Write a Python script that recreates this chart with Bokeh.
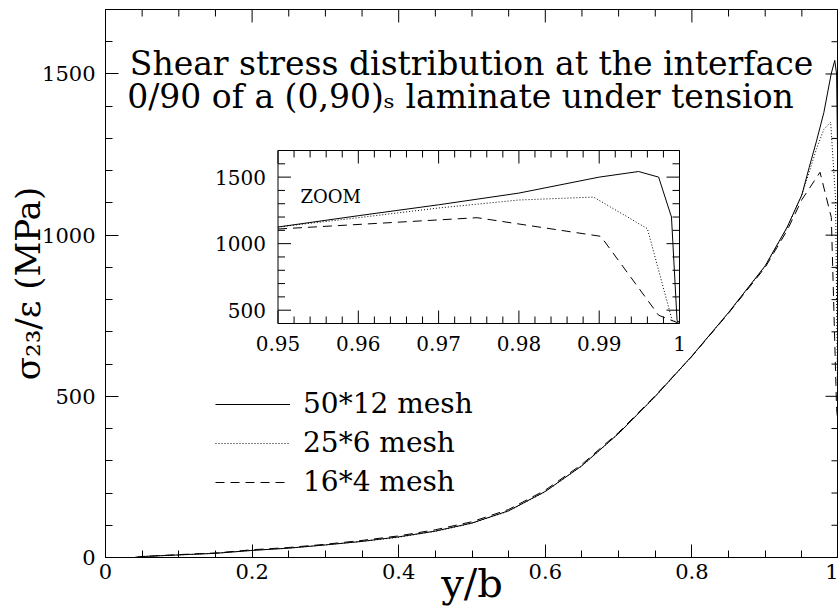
import numpy as np
from bokeh.plotting import figure
from bokeh.models import Range1d, FixedTicker, Label, Legend, LegendItem
from bokeh.embed import file_html
from bokeh.resources import INLINE
from bokeh.core.properties import value

# ---------------- data ----------------
x_50x12 = [0.04, 0.05, 0.10, 0.15, 0.20, 0.25, 0.30, 0.35, 0.40, 0.45, 0.50, 0.55, 0.60, 0.65,
           0.70, 0.75, 0.80, 0.85, 0.90, 0.93, 0.95, 0.96, 0.97, 0.98, 0.99, 0.9949, 0.9974,
           0.9990, 0.9997, 1.0]
y_50x12 = [0, 3, 8, 13, 22, 29, 39, 50, 64, 82, 107, 145, 205, 285,
           385, 500, 625, 760, 905, 1025, 1125, 1210, 1292, 1380, 1500, 1542, 1500,
           1200, 420, 410]

x_25x6 = [0.04, 0.05, 0.10, 0.15, 0.20, 0.25, 0.30, 0.35, 0.40, 0.45, 0.50, 0.55, 0.60, 0.65,
          0.70, 0.75, 0.80, 0.85, 0.90, 0.93, 0.95, 0.96, 0.97, 0.98, 0.9893, 0.996, 0.9991, 1.0]
y_25x6 = [0, 3, 8, 13, 22, 29, 39, 50, 63, 81, 106, 144, 204, 284,
          384, 499, 624, 759, 903, 1023, 1125, 1195, 1268, 1328, 1350, 1113, 420, 410]

x_16x4 = [0.04, 0.05, 0.10, 0.15, 0.20, 0.25, 0.30, 0.35, 0.40, 0.45, 0.50, 0.55, 0.60, 0.65,
          0.70, 0.75, 0.80, 0.85, 0.90, 0.93, 0.95, 0.9748, 0.9902, 0.9974, 1.0]
y_16x4 = [0, 3, 9, 14, 24, 31, 41, 53, 67, 86, 111, 149, 209, 289,
          388, 502, 624, 758, 900, 1015, 1110, 1195, 1055, 462, 400]

series_labels = ["50*12 mesh", "25*6 mesh", "16*4 mesh"]

x_ticks = [0, 0.2, 0.4, 0.6, 0.8, 1.0]
x_tick_labels = ["0", "0.2", "0.4", "0.6", "0.8", "1"]
y_ticks = [0, 500, 1000, 1500]
y_tick_labels = ["0", "500", "1000", "1500"]

inset_x_ticks = [0.95, 0.96, 0.97, 0.98, 0.99, 1.0]
inset_x_tick_labels = ["0.95", "0.96", "0.97", "0.98", "0.99", "1"]
inset_y_ticks = [500, 1000, 1500]
inset_y_tick_labels = ["500", "1000", "1500"]

title_line1 = "Shear stress distribution at the interface"
title_line2 = "0/90 of a (0,90)\u209b laminate under tension"
x_title = "y/b"
y_title = "\u03c3\u2082\u2083/\u03b5 (MPa)"
zoom_text = "ZOOM"

# ---------------- layout constants ----------------
FONT = "DejaVu Serif"
W, H = 838, 614
FL, FR, FT, FB = 105, 838, 9, 557          # main frame, page pixels
IL, IR, IT, IB = 277.5, 679, 150, 323      # inset frame, page pixels
X_MAIN = (0.0, 1.0)
Y_MAIN = (0.0, 1700.0)
X_INSET = (0.95, 1.0)
Y_INSET = (400.0, 1700.0)

def fx(px):   # page x -> frame-relative screen x
    return px - FL

def fy(py):   # page y -> frame-relative screen y (from bottom)
    return FB - py

def extra_range(lo, hi, p_lo, p_hi, f_lo, f_hi):
    a = (p_lo - f_lo) / (f_hi - f_lo)
    b = (p_hi - f_lo) / (f_hi - f_lo)
    span = (hi - lo) / (b - a)
    start = lo - a * span
    return Range1d(start, start + span)

p = figure(width=W, height=H, x_range=Range1d(*X_MAIN), y_range=Range1d(*Y_MAIN),
           output_backend="svg", toolbar_location=None,
           min_border_left=FL, min_border_right=W - FR, min_border_top=FT,
           min_border_bottom=H - FB,
           background_fill_color="white", border_fill_color="white",
           outline_line_color="black", outline_line_width=1)
p.grid.visible = False

p.extra_x_ranges = {"ix": extra_range(X_INSET[0], X_INSET[1], IL, IR, FL, FR)}
p.extra_y_ranges = {"iy": extra_range(Y_INSET[0], Y_INSET[1], FB - IB, FB - IT, 0, FB - FT)}

x_minor = [v for v in np.round(np.arange(0, 1.0001, 0.05), 3) if v not in x_ticks]
y_minor = [v for v in np.arange(0, 1701, 100) if v not in y_ticks]

for ax in (p.xaxis[0], p.yaxis[0]):
    ax.major_tick_in = 13
    ax.major_tick_out = 0
    ax.minor_tick_in = 7
    ax.minor_tick_out = 0
    ax.axis_line_color = "black"
    ax.major_tick_line_color = "black"
    ax.minor_tick_line_color = "black"
    ax.major_label_text_font = FONT
    ax.major_label_text_font_size = "21px"
    ax.major_label_text_color = "black"
    ax.axis_label_text_font = FONT
    ax.axis_label_text_font_style = "normal"
    ax.axis_label_text_color = "black"

p.xaxis.ticker = FixedTicker(ticks=x_ticks, minor_ticks=x_minor)
p.yaxis.ticker = FixedTicker(ticks=y_ticks, minor_ticks=y_minor)
p.xaxis.major_label_overrides = {t: l for t, l in zip(x_ticks, x_tick_labels)}
p.yaxis.major_label_overrides = {t: l for t, l in zip(y_ticks, y_tick_labels)}
p.xaxis.major_label_standoff = 6
p.yaxis.major_label_standoff = 10

p.xaxis.axis_label = x_title
p.xaxis.axis_label_text_font_size = "40px"
p.xaxis.axis_label_standoff = -22
p.yaxis.axis_label = y_title
p.yaxis.axis_label_text_font_size = "34px"
p.yaxis.axis_label_standoff = -9

# mirrored ticks on top and right edges of the main frame
def rays(xs, ys, angle, length, **kw):
    p.ray(x=xs, y=ys, length=length, length_units="screen", angle=angle,
          line_color="black", line_width=1, **kw)

rays(x_ticks, [Y_MAIN[1]] * len(x_ticks), -np.pi / 2, 13)
rays(x_minor, [Y_MAIN[1]] * len(x_minor), -np.pi / 2, 7)
rays([X_MAIN[1]] * len(y_ticks), y_ticks, np.pi, 13)
rays([X_MAIN[1]] * len(y_minor), y_minor, np.pi, 7)

# ---------------- main curves ----------------
styles = [dict(line_dash="solid"), dict(line_dash="1 2"), dict(line_dash="9 6")]
series = [(x_50x12, y_50x12), (x_25x6, y_25x6), (x_16x4, y_16x4)]
main_renderers = []
for (xs, ys), st in zip(series, styles):
    r = p.line(xs, ys, line_color="black", line_width=1, **st)
    main_renderers.append(r)

# ---------------- inset ----------------
IR_KW = dict(x_range_name="ix", y_range_name="iy")
p.quad(left=[X_INSET[0]], right=[X_INSET[1]], bottom=[Y_INSET[0]], top=[Y_INSET[1]],
       fill_color="white", line_color="black", line_width=1, **IR_KW)

for (xs, ys), st in zip(series, styles):
    xs = np.array(xs)
    ys = np.array(ys)
    m = xs >= X_INSET[0]
    p.line(xs[m], ys[m], line_color="black", line_width=1, **IR_KW, **st)

ix_minor = [v for v in np.round(np.arange(0.95, 1.0001, 0.002), 4)
            if min(abs(v - t) for t in inset_x_ticks) > 1e-6]
iy_minor = [v for v in np.arange(500, 1700, 100) if v not in inset_y_ticks]

for ticks, ln in ((inset_x_ticks, 13), (ix_minor, 7)):
    rays(ticks, [Y_INSET[0]] * len(ticks), np.pi / 2, ln, **IR_KW)
    rays(ticks, [Y_INSET[1]] * len(ticks), -np.pi / 2, ln, **IR_KW)
for ticks, ln in ((inset_y_ticks, 13), (iy_minor, 7)):
    rays([X_INSET[0]] * len(ticks), ticks, 0.0, ln, **IR_KW)
    rays([X_INSET[1]] * len(ticks), ticks, np.pi, ln, **IR_KW)

p.text(x=inset_x_ticks, y=[Y_INSET[0]] * len(inset_x_ticks), text=inset_x_tick_labels,
       text_align="center", text_baseline="top", y_offset=12,
       text_font=value(FONT), text_font_size=value("20px"), text_color="black", **IR_KW)
p.text(x=[X_INSET[0]] * len(inset_y_ticks), y=inset_y_ticks, text=inset_y_tick_labels,
       text_align="right", text_baseline="middle", x_offset=-12,
       text_font=value(FONT), text_font_size=value("20px"), text_color="black", **IR_KW)

# ---------------- texts ----------------
def label(px, py, text, size, align="left", baseline="alphabetic", angle=0.0):
    lb = Label(x=fx(px), y=fy(py), x_units="screen", y_units="screen", text=text,
               text_font=FONT, text_font_size=size, text_align=align,
               text_baseline=baseline, angle=angle, text_color="black")
    p.add_layout(lb)

label(471, 63, title_line1, "33px", align="center")
label(460, 96, title_line2, "33px", align="center")
label(300, 196, zoom_text, "18px")

# ---------------- legend ----------------
legend = Legend(items=[LegendItem(label=l, renderers=[r]) for l, r in zip(series_labels, main_renderers)],
                location=(fx(215), fy(498)), glyph_width=75, glyph_height=20,
                label_standoff=13, spacing=6, padding=0, margin=0,
                border_line_color=None, background_fill_alpha=0,
                label_text_font=FONT, label_text_font_size="28px", label_text_color="black")
p.add_layout(legend, "center")

open("out.html", "w").write(file_html(p, INLINE))
